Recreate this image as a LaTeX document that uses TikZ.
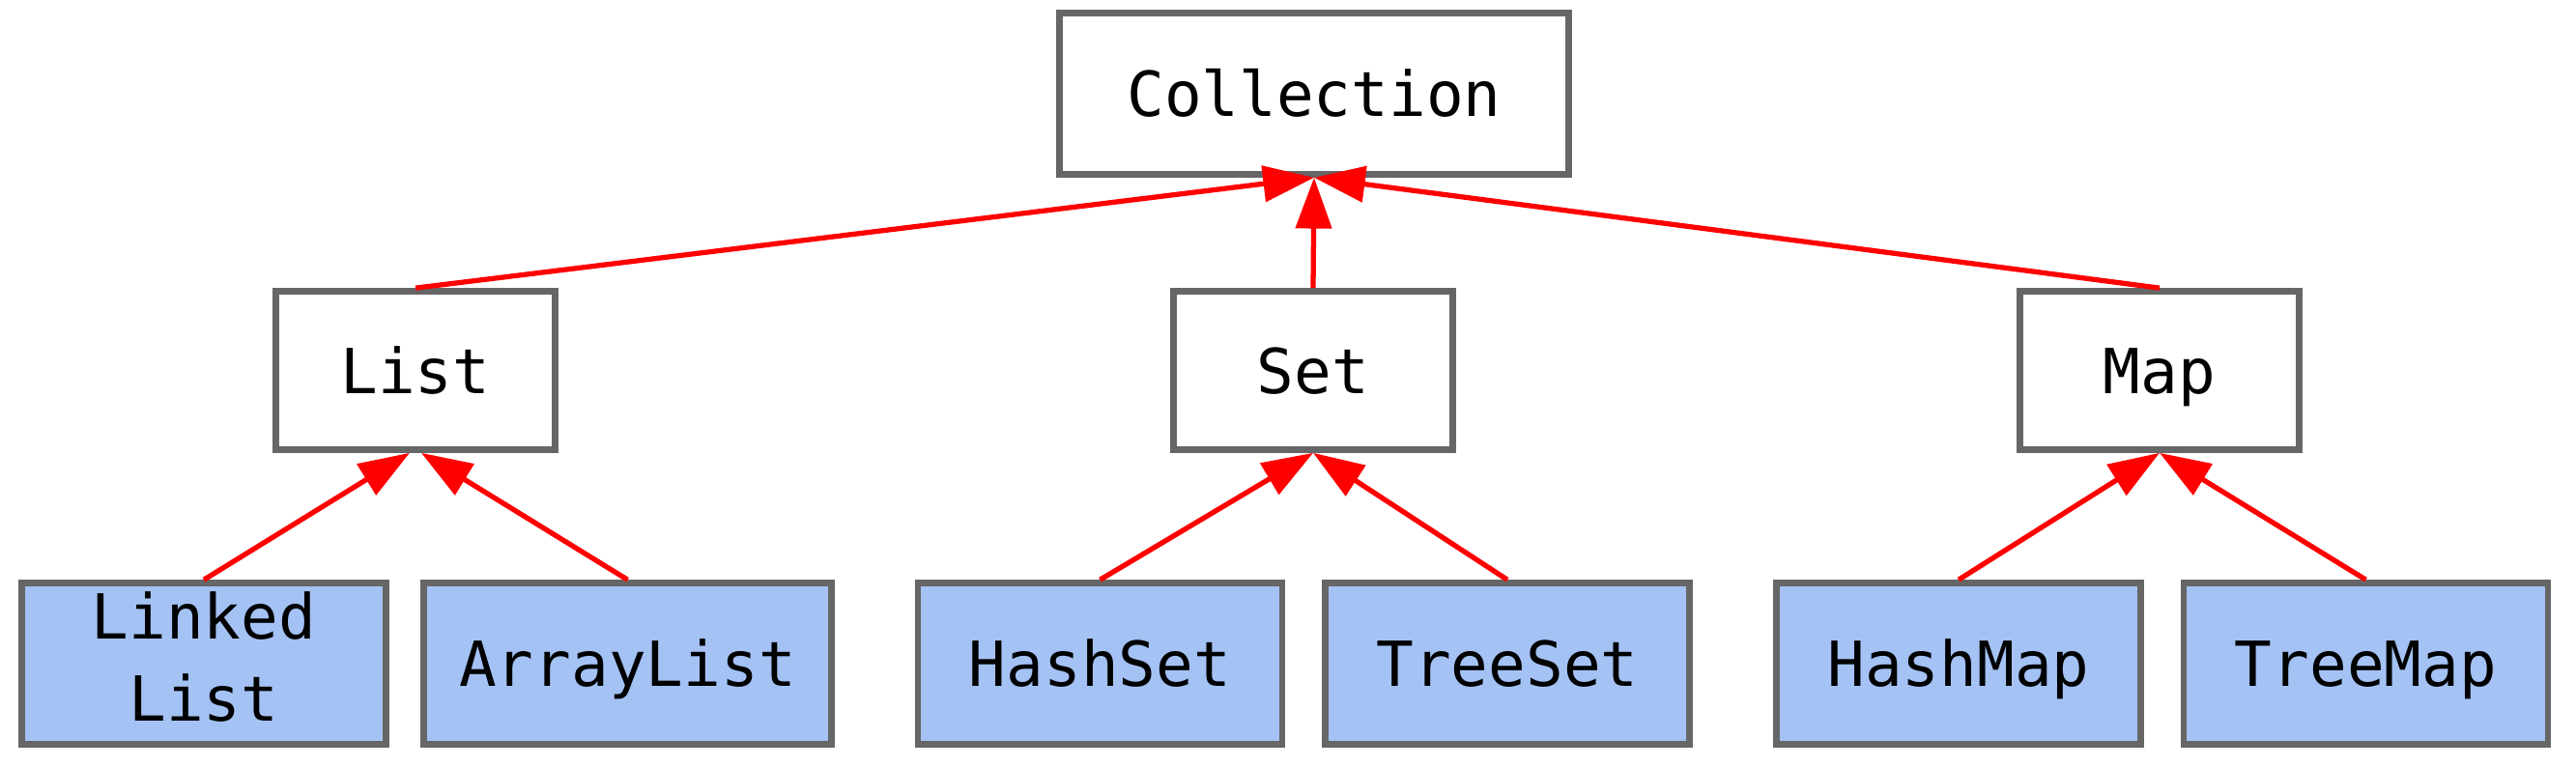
\documentclass[tikz,border=0pt]{standalone}
\usepackage{fontspec}
\setmonofont{DejaVu Sans Mono}
\usetikzlibrary{arrows.meta,positioning}
\definecolor{boxgray}{HTML}{666666}
\definecolor{implblue}{HTML}{A4C2F4}
\newcommand{\boxstrut}{\rule[-0.24em]{0pt}{1.22em}}
\tikzstyle{iface} = [rectangle, draw=boxgray, line width=1.9pt, fill=white,
    font=\ttfamily\fontsize{18.3}{24.2}\selectfont, align=center,
    execute at begin node=\boxstrut,
    inner sep=0pt, minimum width=2.89cm, minimum height=1.64cm]
\tikzstyle{impl} = [iface, fill=implblue, minimum width=3.77cm, minimum height=1.67cm]

\begin{document}
\begin{tikzpicture}[>={Triangle[length=15pt,width=10.5pt]},
                    arr/.style={->,red,line width=1.5pt}]
  \useasboundingbox (0,0) rectangle (26.66,-7.94);
  \node[iface, minimum width=5.27cm, minimum height=1.67cm] (coll) at (13.60,-0.97) {Collection};
  \node[iface] (list) at (4.30,-3.835) {List};
  \node[iface] (set)  at (13.59,-3.835) {Set};
  \node[iface] (map)  at (22.35,-3.835) {Map};

  \node[impl] (linked) at (2.11,-6.87) {Linked\\List};
  \node[impl, minimum width=4.22cm] (array) at (6.495,-6.87) {ArrayList};
  \node[impl] (hset) at (11.385,-6.87) {HashSet};
  \node[impl] (tset) at (15.60,-6.87) {TreeSet};
  \node[impl] (hmap) at (20.27,-6.87) {HashMap};
  \node[impl] (tmap) at (24.485,-6.87) {TreeMap};

  \path (list.north) edge[arr] (coll.south)
        (set.north) edge[arr] (coll.south)
        (map.north) edge[arr] (coll.south)
        (linked.north) edge[arr] ([xshift=-0.06cm]list.south)
        (array.north) edge[arr] ([xshift=0.06cm]list.south)
        (hset.north) edge[arr] (set.south)
        (tset.north) edge[arr] (set.south)
        (hmap.north) edge[arr] (map.south)
        (tmap.north) edge[arr] (map.south);
\end{tikzpicture}
\end{document}
